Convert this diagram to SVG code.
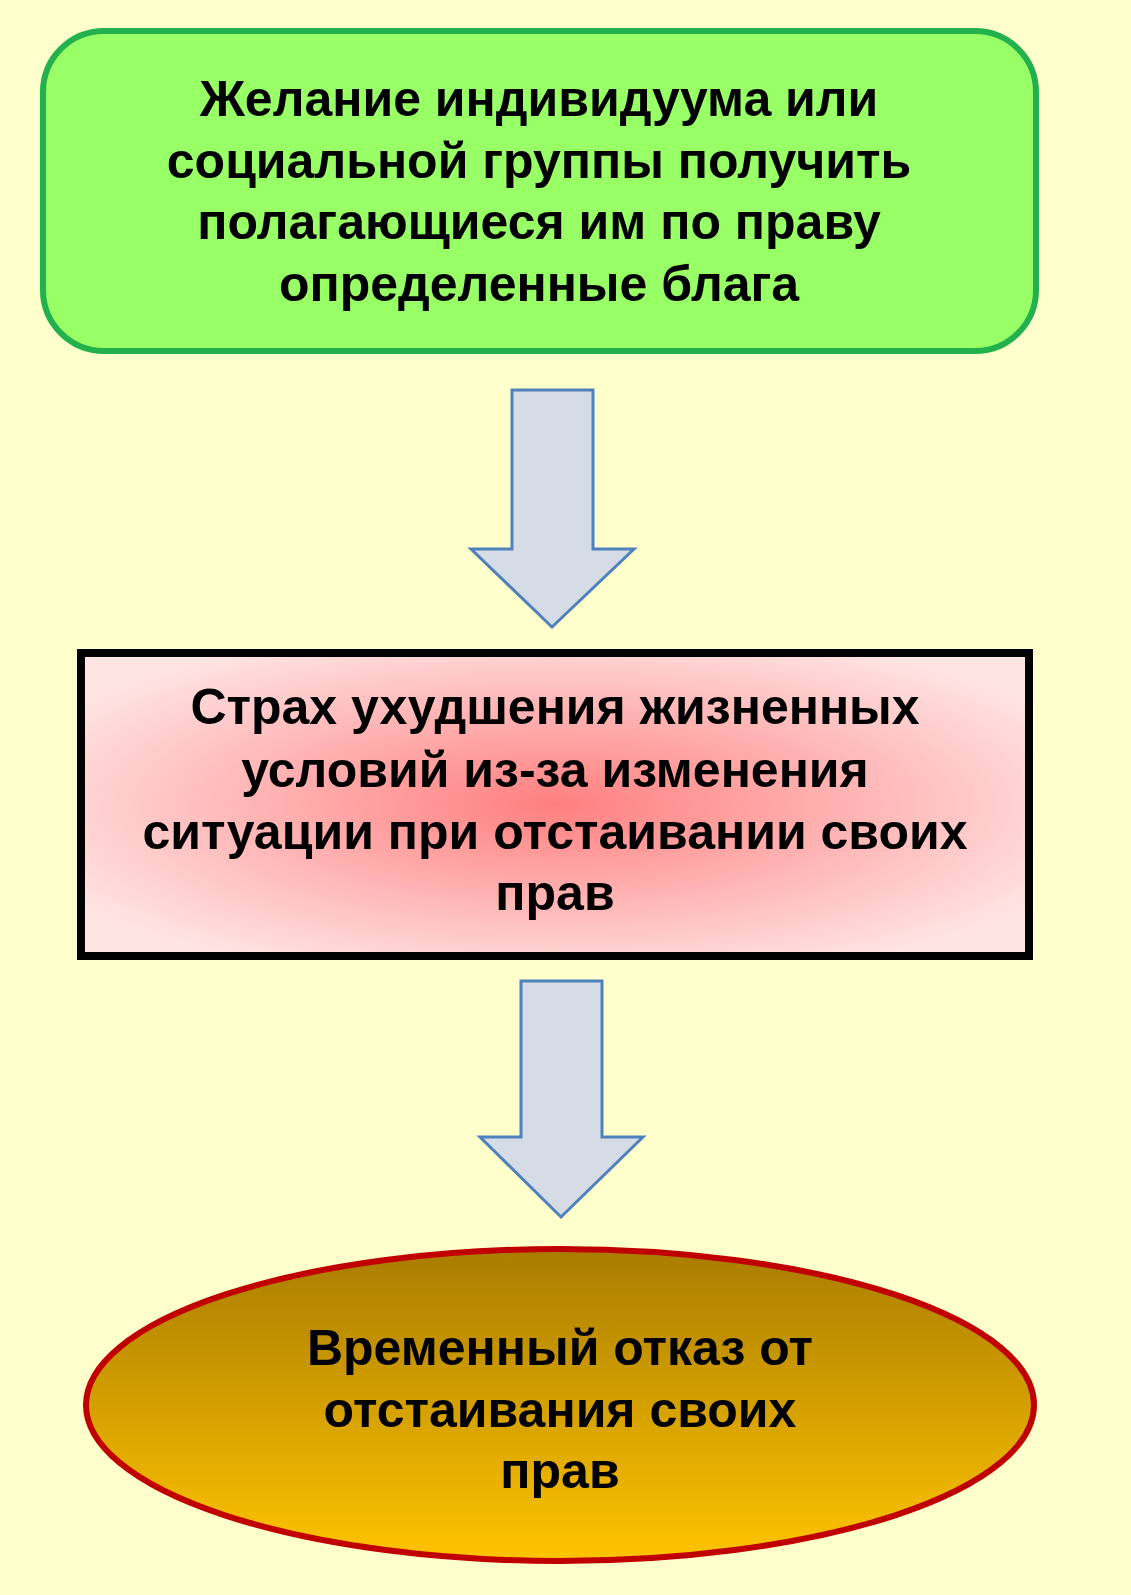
<svg xmlns="http://www.w3.org/2000/svg" width="1131" height="1595" viewBox="0 0 1131 1595">
<defs>
<radialGradient id="rg" cx="0.5" cy="0.5" r="0.6">
<stop offset="0" stop-color="#FF7F7F"/><stop offset="1" stop-color="#FFE4E4"/>
</radialGradient>
<linearGradient id="lg" x1="0" y1="0" x2="0" y2="1">
<stop offset="0" stop-color="#A97C00"/><stop offset="1" stop-color="#FFC400"/>
</linearGradient>
<style>
text{font-family:"Liberation Sans",Arial,sans-serif;font-weight:bold;font-size:50px;text-anchor:middle;fill:#000}
.arr{fill:#D6DCE5;stroke:#4F81BD;stroke-width:3}
</style>
</defs>
<rect width="1131" height="1595" fill="#FFFFCC"/>
<g id="node1">
<rect x="43" y="31" width="993" height="320" rx="61" fill="#99FF66" stroke="#22B14C" stroke-width="6"/>
<text x="539" y="116">Желание индивидуума или</text>
<text x="539" y="178">социальной группы получить</text>
<text x="539" y="239">полагающиеся им по праву</text>
<text x="539" y="301">определенные блага</text>
</g>
<g id="connectors">
<polygon class="arr" points="512,390 593,390 593,549 634,549 552,627 471,549 512,549"/>
<polygon class="arr" points="521,981 602,981 602,1137 643,1137 561,1217 480,1137 521,1137"/>
</g>
<g id="node2">
<rect x="81" y="653" width="948" height="303" fill="url(#rg)" stroke="#000" stroke-width="8"/>
<text x="555" y="724">Страх ухудшения жизненных</text>
<text x="555" y="787">условий из-за изменения</text>
<text x="555" y="849">ситуации при отстаивании своих</text>
<text x="555" y="910">прав</text>
</g>
<g id="node3">
<ellipse cx="560" cy="1405" rx="474" ry="156" fill="url(#lg)" stroke="#C00000" stroke-width="6"/>
<text x="560" y="1365">Временный отказ от</text>
<text x="560" y="1427">отстаивания своих</text>
<text x="560" y="1488">прав</text>
</g>
</svg>
